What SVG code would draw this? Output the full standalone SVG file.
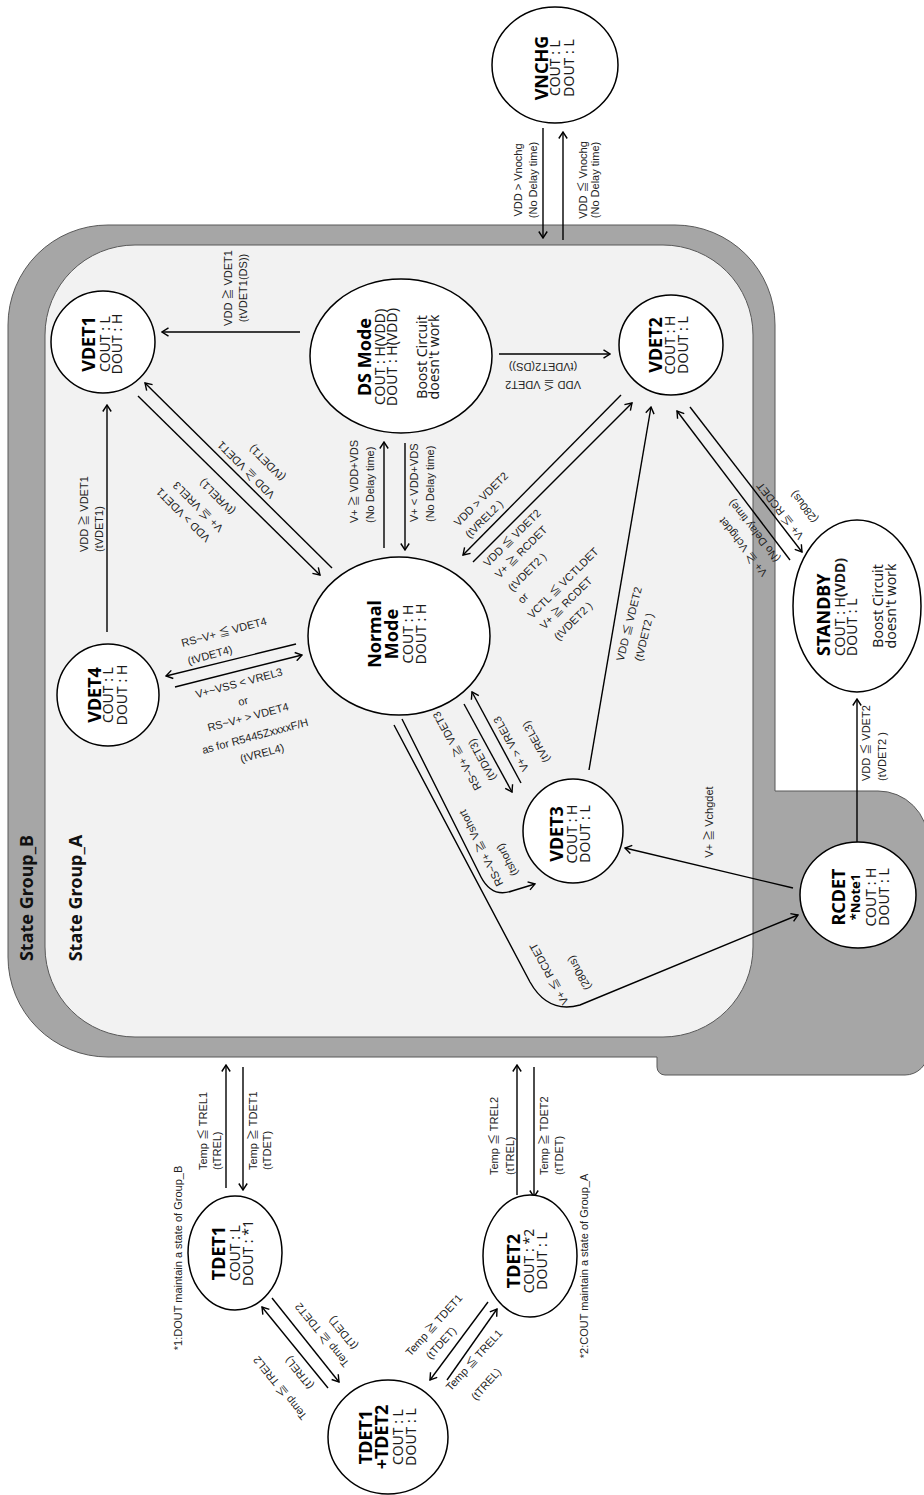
<svg xmlns="http://www.w3.org/2000/svg" width="924" height="1495" viewBox="0 0 924 1495">
<defs>
<marker id="ah" viewBox="0 0 10 10" refX="9" refY="5" markerWidth="10" markerHeight="10" markerUnits="userSpaceOnUse" orient="auto"><path d="M2.5,0.8 L9,5 L2.5,9.2" fill="none" stroke="#000" stroke-width="1.4"/></marker>
<style>
.grpB{fill:#a6a6a6;stroke:#595959;stroke-width:1}
.grpA{fill:#f2f2f2;stroke:#595959;stroke-width:1}
.nd{fill:#fff;stroke:#000;stroke-width:1.5}
.c{fill:none;stroke:#000;stroke-width:1.4;marker-end:url(#ah)}
.t{font-family:"Noto Sans","DejaVu Sans",sans-serif;font-size:18px;font-weight:bold;fill:#000;text-anchor:middle}
.s{font-family:"Noto Sans","DejaVu Sans",sans-serif;font-size:14px;fill:#1a1a1a;text-anchor:middle}
.n{font-family:"Noto Sans","DejaVu Sans",sans-serif;font-size:13px;font-weight:bold;fill:#000;text-anchor:middle}
.l{font-family:"Liberation Sans","Noto Sans CJK JP",sans-serif;font-size:11px;fill:#222;text-anchor:middle}
.ls{font-family:"Liberation Sans","Noto Sans CJK JP",sans-serif;font-size:11px;fill:#222;text-anchor:start}
.g{font-family:"Noto Sans","DejaVu Sans",sans-serif;font-size:18px;font-weight:bold;fill:#111;text-anchor:middle}
</style>
</defs>
<rect width="924" height="1495" fill="#fff"/>

<g id="state-group-b">
<path class="grpB" d="M8,325 A100,100 0 0 1 108,225 H675 A100,100 0 0 1 775,325 V791 H878 A50,50 0 0 1 928,841 V1052 A23,23 0 0 1 905,1075 H665 A8,8 0 0 1 657,1067 V1057 H108 A100,100 0 0 1 8,957 Z"/>
<text class="g" transform="translate(33,898) rotate(-90)">State Group_B</text>
</g>
<g id="state-group-a">
<rect class="grpA" x="45" y="245" width="708" height="792" rx="90" ry="90"/>
<text class="g" transform="translate(82,898) rotate(-90)">State Group_A</text>
</g>

<g id="connectors">
<path class="c" d="M543,128 V238"/>
<path class="c" d="M563,240 V132"/>
<path class="c" d="M300,332 H162"/>
<path class="c" d="M499,354 H610"/>
<path class="c" d="M107,632 V405"/>
<path class="c" d="M138,396 L320,575"/>
<path class="c" d="M332,568 L145,383"/>
<path class="c" d="M384,548 V442"/>
<path class="c" d="M405,443 V550"/>
<path class="c" d="M621,395 L463,555"/>
<path class="c" d="M473,562 L632,403"/>
<path class="c" d="M296,644 L166,676"/>
<path class="c" d="M175,687 L302,655"/>
<path class="c" d="M589,770 L651,407"/>
<path class="c" d="M790,560 L677,411"/>
<path class="c" d="M690,407 L802,552"/>
<path class="c" d="M857,842 V699"/>
<path class="c" d="M793,888 L625,848"/>
<path class="c" d="M521,783 L472,692"/>
<path class="c" d="M464,704 L512,792"/>
<path class="c" d="M402,719 L481,877 Q492,898 512,891 L535,884"/>
<path class="c" d="M394,725 L530,982 Q548,1014 580,1005 L798,915"/>
<path class="c" d="M226,1188 V1065"/>
<path class="c" d="M243,1067 V1190"/>
<path class="c" d="M517,1195 V1065"/>
<path class="c" d="M534,1067 V1197"/>
<path class="c" d="M488,1302 L430,1380"/>
<path class="c" d="M447,1380 L497,1309"/>
<path class="c" d="M328,1388 L262,1307"/>
<path class="c" d="M272,1298 L339,1382"/>

<!-- labels rotated -90 -->
<g transform="translate(0,180)">
<text class="l" transform="translate(522,0) rotate(-90)">VDD &gt; Vnochg</text>
<text class="l" transform="translate(537,0) rotate(-90)">(No Delay time)</text>
<text class="l" transform="translate(587,0) rotate(-90)">VDD ≦ Vnochg</text>
<text class="l" transform="translate(599,0) rotate(-90)">(No Delay time)</text>
</g>
<text class="l" transform="translate(232,288) rotate(-90)">VDD ≧ VDET1</text>
<text class="l" transform="translate(247,288) rotate(-90)">(tVDET1(DS))</text>
<text class="l" transform="translate(543,381) rotate(180)">VDD ≦ VDET2</text>
<text class="l" transform="translate(543,363) rotate(180)">(tVDET2(DS))</text>
<text class="ls" transform="translate(88,552) rotate(-90)">VDD ≧ VDET1</text>
<text class="ls" transform="translate(103,552) rotate(-90)">(tVDET1)</text>
<text class="ls" transform="translate(358,523) rotate(-90)">V+ ≧ VDD+VDS</text>
<text class="ls" transform="translate(374,523) rotate(-90)">(No Delay time)</text>
<text class="ls" transform="translate(418,522) rotate(-90)">V+ &lt; VDD+VDS</text>
<text class="ls" transform="translate(434,522) rotate(-90)">(No Delay time)</text>
<text class="l" transform="translate(713,822) rotate(-90)">V+ ≧ Vchgdet</text>
<text class="ls" transform="translate(870,781) rotate(-90)">VDD ≦ VDET2</text>
<text class="ls" transform="translate(886,781) rotate(-90)">(tVDET2 )</text>
<text class="ls" transform="translate(207,1170) rotate(-90)">Temp ≦ TREL1</text>
<text class="ls" transform="translate(221,1170) rotate(-90)">(tTREL)</text>
<text class="ls" transform="translate(257,1170) rotate(-90)">Temp ≧ TDET1</text>
<text class="ls" transform="translate(271,1170) rotate(-90)">(tTDET)</text>
<text class="ls" transform="translate(498,1175) rotate(-90)">Temp ≦ TREL2</text>
<text class="ls" transform="translate(514,1175) rotate(-90)">(tTREL)</text>
<text class="ls" transform="translate(548,1175) rotate(-90)">Temp ≧ TDET2</text>
<text class="ls" transform="translate(563,1175) rotate(-90)">(tTDET)</text>
<text class="l" transform="translate(182,1258) rotate(-90)">*1:DOUT maintain a state of Group_B</text>
<text class="l" transform="translate(588,1266) rotate(-90)">*2:COUT maintain a state of Group_A</text>

<!-- angled labels -->
<g>
<text class="l" dy=".35em" transform="translate(246,470) rotate(-135)">VDD ≧ VDET1</text>
<text class="l" dy=".35em" transform="translate(267,463) rotate(-135)">(tVDET1)</text>
<text class="l" dy=".35em" transform="translate(183,515) rotate(-135)">VDD &gt; VDET1</text>
<text class="l" dy=".35em" transform="translate(198,507) rotate(-135)">V+ ≦ VREL3</text>
<text class="l" dy=".35em" transform="translate(217,497) rotate(-135)">(tVREL1)</text>

<text class="l" dy=".35em" transform="translate(481,499) rotate(-45)">VDD &gt; VDET2</text>
<text class="l" dy=".35em" transform="translate(484,519) rotate(-45)">(tVREL2 )</text>
<text class="l" dy=".35em" transform="translate(512,538) rotate(-45)">VDD ≦ VDET2</text>
<text class="l" dy=".35em" transform="translate(521,552) rotate(-45)">V+ ≧ RCDET</text>
<text class="l" dy=".35em" transform="translate(527,572) rotate(-45)">(tVDET2 )</text>
<text class="l" dy=".35em" transform="translate(523,598) rotate(-45)">or</text>
<text class="l" dy=".35em" transform="translate(563,583) rotate(-45)">VCTL ≦ VCTLDET</text>
<text class="l" dy=".35em" transform="translate(566,603) rotate(-45)">V+ ≧ RCDET</text>
<text class="l" dy=".35em" transform="translate(573,621) rotate(-45)">(tVDET2 )</text>

<text class="l" dy=".35em" transform="translate(629,624) rotate(-76)">VDD ≦ VDET2</text>
<text class="l" dy=".35em" transform="translate(644,637) rotate(-76)">(tVDET2 )</text>

<text class="l" dy=".35em" transform="translate(224,632) rotate(-15)">RS~V+ ≦ VDET4</text>
<text class="l" dy=".35em" transform="translate(210,655) rotate(-15)">(tVDET4)</text>
<text class="l" dy=".35em" transform="translate(239,683) rotate(-15)">V+~VSS &lt; VREL3</text>
<text class="l" dy=".35em" transform="translate(243,701) rotate(-15)">or</text>
<text class="l" dy=".35em" transform="translate(248,717) rotate(-15)">RS~V+ &gt; VDET4</text>
<text class="l" dy=".35em" transform="translate(255,736) rotate(-15)">as for R5445ZxxxxF/H</text>
<text class="l" dy=".35em" transform="translate(262,753) rotate(-15)">(tVREL4)</text>

<text class="l" dy=".35em" transform="translate(780,511) rotate(232)">V+ ≦ RCDET</text>
<text class="l" dy=".35em" transform="translate(804,507) rotate(232)">(280us)</text>
<text class="l" dy=".35em" transform="translate(743,547) rotate(232)">V+ ≧ Vchgdet</text>
<text class="l" dy=".35em" transform="translate(754,531) rotate(232)">(No Delay time)</text>

<text class="l" dy=".35em" transform="translate(457,751) rotate(-119)">RS~V+ ≧ VDET3</text>
<text class="l" dy=".35em" transform="translate(482,760) rotate(-119)">(tVDET3)</text>
<text class="l" dy=".35em" transform="translate(511,744) rotate(-119)">V+ &gt; VREL3</text>
<text class="l" dy=".35em" transform="translate(536,742) rotate(-119)">(tVREL3)</text>

<text class="l" dy=".35em" transform="translate(481,848) rotate(-117)">RS~V+ ≧ Vshort</text>
<text class="l" dy=".35em" transform="translate(507,860) rotate(-117)">(tshort)</text>
<text class="l" dy=".35em" transform="translate(549,974) rotate(-119)">V+ ≦ RCDET</text>
<text class="l" dy=".35em" transform="translate(579,973) rotate(-119)">(280us)</text>

<text class="l" dy=".35em" transform="translate(434,1325) rotate(-48)">Temp ≧ TDET1</text>
<text class="l" dy=".35em" transform="translate(441,1343) rotate(-48)">(tTDET)</text>
<text class="l" dy=".35em" transform="translate(474,1360) rotate(-48)">Temp ≦ TREL1</text>
<text class="l" dy=".35em" transform="translate(486,1384) rotate(-48)">(tTREL)</text>

<text class="l" dy=".35em" transform="translate(322,1335) rotate(231)">Temp ≧ TDET2</text>
<text class="l" dy=".35em" transform="translate(343,1333) rotate(231)">(tTDET)</text>
<text class="l" dy=".35em" transform="translate(280,1388) rotate(231)">Temp ≦ TREL2</text>
<text class="l" dy=".35em" transform="translate(299,1373) rotate(231)">(tTREL)</text>
</g>
</g>

<g id="VNCHG">
<ellipse class="nd" cx="555" cy="65" rx="63" ry="58"/>
<g transform="translate(555,68) rotate(-90)">
<text class="t" y="-7">VNCHG</text>
<text class="s" y="5">COUT : L</text>
<text class="s" y="19">DOUT : L</text>
</g>
</g>

<g id="VDET1">
<ellipse class="nd" cx="103" cy="342" rx="52" ry="51"/>
<g transform="translate(103,344) rotate(-90)">
<text class="t" y="-8">VDET1</text>
<text class="s" y="7">COUT : L</text>
<text class="s" y="19">DOUT : H</text>
</g>
</g>

<g id="DSMode">
<ellipse class="nd" cx="401" cy="356" rx="91" ry="77"/>
<g transform="translate(401,357) rotate(-90)">
<text class="t" y="-30">DS Mode</text>
<text class="s" y="-16">COUT : H(VDD)</text>
<text class="s" y="-4">DOUT : H(VDD)</text>
<text class="s" y="26">Boost Circuit</text>
<text class="s" y="38">doesn't work</text>
</g>
</g>

<g id="VDET2">
<ellipse class="nd" cx="671" cy="345" rx="52" ry="50"/>
<g transform="translate(671,345) rotate(-90)">
<text class="t" y="-9">VDET2</text>
<text class="s" y="4">COUT : H</text>
<text class="s" y="17">DOUT : L</text>
</g>
</g>

<g id="NormalMode">
<ellipse class="nd" cx="399" cy="636" rx="91" ry="79"/>
<g transform="translate(399,634) rotate(-90)">
<text class="t" y="-18">Normal</text>
<text class="t" y="-1">Mode</text>
<text class="s" y="14">COUT : H</text>
<text class="s" y="27">DOUT : H</text>
</g>
</g>

<g id="VDET4">
<ellipse class="nd" cx="108" cy="695" rx="51" ry="51"/>
<g transform="translate(108,695) rotate(-90)">
<text class="t" y="-7">VDET4</text>
<text class="s" y="5">COUT : L</text>
<text class="s" y="19">DOUT : H</text>
</g>
</g>

<g id="STANDBY">
<ellipse class="nd" cx="857" cy="606" rx="64" ry="86"/>
<g transform="translate(857,606) rotate(-90)">
<text class="t" x="-50" y="-27" style="text-anchor:start">STANDBY</text>
<text class="s" x="-50" y="-12" style="text-anchor:start">COUT : H<tspan font-weight="bold">(VDD)</tspan></text>
<text class="s" x="-50" y="0" style="text-anchor:start">DOUT : L</text>
<text class="s" y="26">Boost Circuit</text>
<text class="s" y="39">doesn't work</text>
</g>
</g>

<g id="VDET3">
<ellipse class="nd" cx="573" cy="831" rx="50" ry="52"/>
<g transform="translate(573,834) rotate(-90)">
<text class="t" y="-10">VDET3</text>
<text class="s" y="4">COUT : H</text>
<text class="s" y="17">DOUT : L</text>
</g>
</g>

<g id="RCDET">
<ellipse class="nd" cx="858" cy="895" rx="58" ry="53"/>
<g transform="translate(858,897) rotate(-90)">
<text class="t" y="-13">RCDET</text>
<text class="n" y="2">*Note1</text>
<text class="s" y="18">COUT : H</text>
<text class="s" y="31">DOUT : L</text>
</g>
</g>

<g id="TDET1">
<ellipse class="nd" cx="235" cy="1253" rx="47" ry="57"/>
<g transform="translate(235,1253) rotate(-90)">
<text class="t" y="-10">TDET1</text>
<text class="s" y="5">COUT : L</text>
<text class="s" y="18">DOUT : *1</text>
</g>
</g>

<g id="TDET2">
<ellipse class="nd" cx="530" cy="1256" rx="47" ry="61"/>
<g transform="translate(530,1261) rotate(-90)">
<text class="t" y="-10">TDET2</text>
<text class="s" y="4">COUT : *2</text>
<text class="s" y="17">DOUT : L</text>
</g>
</g>

<g id="TDET1_TDET2">
<ellipse class="nd" cx="388" cy="1437" rx="60" ry="57"/>
<g transform="translate(388,1437) rotate(-90)">
<text class="t" y="-16">TDET1</text>
<text class="t" y="0">+TDET2</text>
<text class="s" y="15">COUT : L</text>
<text class="s" y="28">DOUT : L</text>
</g>
</g>
</svg>
